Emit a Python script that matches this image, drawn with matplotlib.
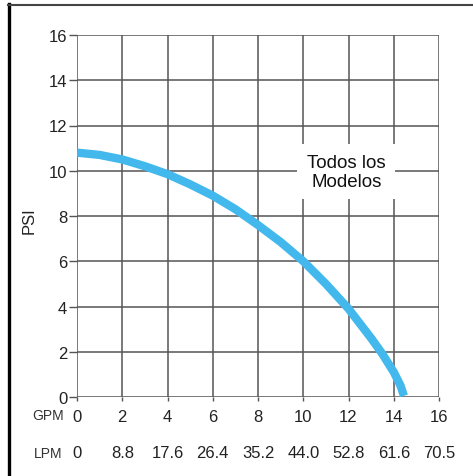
import matplotlib
matplotlib.use("Agg")
import matplotlib.pyplot as plt
from matplotlib.lines import Line2D

plt.rcParams['font.family'] = ['Liberation Sans', 'DejaVu Sans']

gpm = [0, 1, 2, 3, 4, 5, 6, 7, 8, 9, 10, 11, 12, 13, 13.5, 14, 14.3, 14.45]
psi = [10.8, 10.7, 10.5, 10.2, 9.85, 9.4, 8.9, 8.3, 7.6, 6.85, 6.0, 5.0, 3.9, 2.6, 1.9, 1.1, 0.5, 0.05]
gpm_ticks = [0, 2, 4, 6, 8, 10, 12, 14, 16]
lpm_labels = ["0", "8.8", "17.6", "26.4", "35.2", "44.0", "52.8", "61.6", "70.5"]
psi_ticks = [0, 2, 4, 6, 8, 10, 12, 14, 16]

W, H = 473, 477
fig = plt.figure(figsize=(W / 100, H / 100), dpi=100)
fig.patch.set_facecolor("white")
x0, x1 = 77, 439
y16, y0 = 36, 398
ax = fig.add_axes([x0 / W, 1 - y0 / H, (x1 - x0) / W, (y0 - y16) / H])
ax.set_xlim(0, 16)
ax.set_ylim(0, 16)
for s in ax.spines.values():
    s.set_visible(False)
ax.set_xticks(gpm_ticks)
ax.set_yticks(psi_ticks)
ax.grid(True, color="#555555", linewidth=1.1)
ax.set_axisbelow(True)
ax.tick_params(axis="both", width=1, color="#555555", labelsize=12, labelcolor="#222222")
ax.tick_params(axis="x", length=3, pad=6)
ax.tick_params(axis="y", length=6, pad=1)

ax.plot(gpm, psi, color="#42b8ec", linewidth=6, solid_capstyle="butt", zorder=3)

ax.text(11.9, 9.95, "Todos los\nModelos", ha="center", va="center", fontsize=13.5,
        color="#111111", linespacing=1.1, zorder=4,
        bbox=dict(facecolor="white", edgecolor="none", pad=7))

ax.set_ylabel("PSI", fontsize=12, color="#222222")
ax.yaxis.set_label_coords(-(77 - 37) / 362, (398 - 221) / 362)

sec = ax.secondary_xaxis(location=-(446 - 398) / 362)
sec.set_xticks(gpm_ticks)
sec.set_xticklabels(lpm_labels)
sec.tick_params(length=0, labelsize=12, labelcolor="#222222", pad=0)
sec.spines["bottom"].set_visible(False)

fig.text(48 / W, 1 - 416 / H, "GPM", ha="center", va="center", fontsize=10, color="#333333")
fig.text(48 / W, 1 - 454 / H, "LPM", ha="center", va="center", fontsize=10, color="#333333")

fig.add_artist(Line2D([9 / W, 9 / W], [1 - 5 / H, 0], transform=fig.transFigure, color="black", linewidth=2.4))
fig.add_artist(Line2D([8 / W, 1], [1 - 6 / H, 1 - 6 / H], transform=fig.transFigure, color="#444444", linewidth=1.5))

fig.savefig("out.png", dpi=100)
